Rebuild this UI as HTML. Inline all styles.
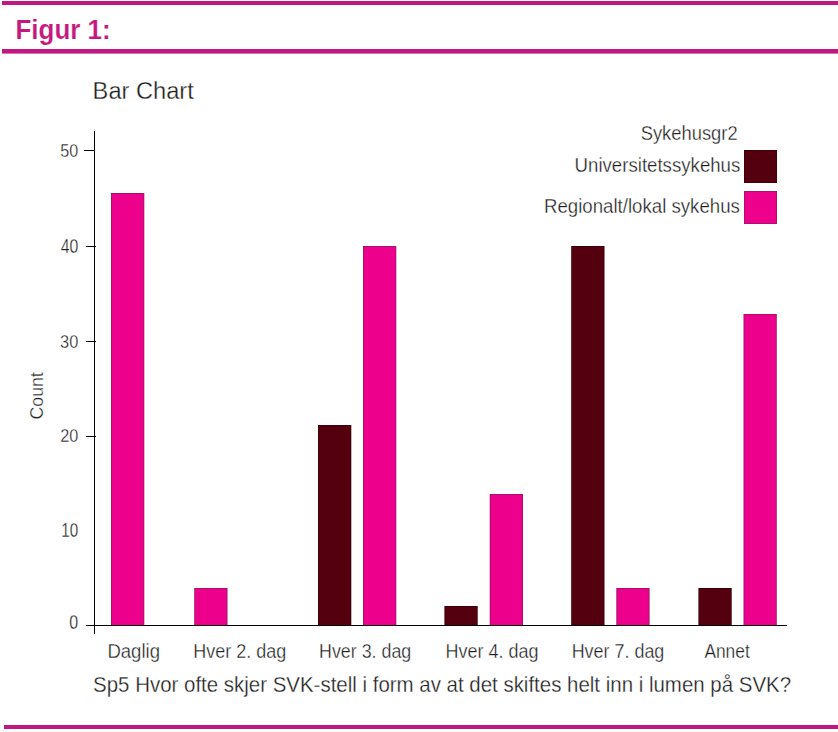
<!DOCTYPE html>
<html><head><meta charset="utf-8"><style>
html,body{margin:0;padding:0;background:#fff;}
svg{display:block;font-family:"Liberation Sans",sans-serif;}
</style></head><body>
<svg width="838" height="732" viewBox="0 0 838 732">
<rect width="838" height="732" fill="#fff"/>
<rect x="2" y="1" width="836" height="4" fill="#C0187F"/>
<rect x="2" y="49" width="836" height="4.6" fill="#C0187F"/>
<rect x="4" y="725" width="834" height="4" fill="#C0187F"/>
<text x="15.51" y="38.90" font-size="28.55" font-weight="bold" fill="#C4187F" stroke="#fff" stroke-width="0.15" textLength="95.19" lengthAdjust="spacingAndGlyphs">Figur 1:</text>
<text x="92.61" y="98.90" font-size="24.64" fill="#1e1e1e" stroke="#fff" stroke-width="0.3" textLength="101.22" lengthAdjust="spacingAndGlyphs">Bar Chart</text>
<rect x="84" y="150" width="10" height="1" fill="#000"/>
<rect x="86" y="246" width="10" height="1" fill="#000"/>
<rect x="86" y="341" width="10" height="1" fill="#000"/>
<rect x="86" y="436" width="10" height="1" fill="#000"/>
<rect x="86" y="625" width="8" height="1" fill="#000"/>
<text x="60.35" y="156.60" font-size="19.14" fill="#1e1e1e" stroke="#fff" stroke-width="0.3" textLength="17.95" lengthAdjust="spacingAndGlyphs">50</text>
<text x="60.68" y="253.00" font-size="19.86" fill="#1e1e1e" stroke="#fff" stroke-width="0.3" textLength="17.61" lengthAdjust="spacingAndGlyphs">40</text>
<text x="60.04" y="347.70" font-size="18.57" fill="#1e1e1e" stroke="#fff" stroke-width="0.3" textLength="18.27" lengthAdjust="spacingAndGlyphs">30</text>
<text x="60.19" y="442.00" font-size="18.57" fill="#1e1e1e" stroke="#fff" stroke-width="0.3" textLength="18.12" lengthAdjust="spacingAndGlyphs">20</text>
<text x="61.36" y="536.90" font-size="19.29" fill="#1e1e1e" stroke="#fff" stroke-width="0.3" textLength="16.91" lengthAdjust="spacingAndGlyphs">10</text>
<text x="69.36" y="628.90" font-size="19.57" fill="#1e1e1e" stroke="#fff" stroke-width="0.3" textLength="8.92" lengthAdjust="spacingAndGlyphs">0</text>
<g transform="translate(42.8,0) rotate(-90)"><text x="-419.49" y="0.00" font-size="19.13" fill="#1e1e1e" stroke="#fff" stroke-width="0.3" textLength="47.24" lengthAdjust="spacingAndGlyphs">Count</text></g>
<rect x="111" y="193" width="33.3" height="432" fill="#9E1468"/>
<rect x="111.9" y="193.9" width="31.499999999999996" height="431.1" fill="#EC008C"/>
<rect x="194.2" y="588" width="33.3" height="37" fill="#9E1468"/>
<rect x="195.1" y="588.9" width="31.499999999999996" height="36.1" fill="#EC008C"/>
<rect x="318" y="425" width="33.3" height="200" fill="#3A0008"/>
<rect x="318.9" y="425.9" width="31.499999999999996" height="199.1" fill="#55000E"/>
<rect x="363" y="246" width="33.3" height="379" fill="#9E1468"/>
<rect x="363.9" y="246.9" width="31.499999999999996" height="378.1" fill="#EC008C"/>
<rect x="444.4" y="606" width="33.3" height="19" fill="#3A0008"/>
<rect x="445.29999999999995" y="606.9" width="31.499999999999996" height="18.1" fill="#55000E"/>
<rect x="489.7" y="494" width="33.3" height="131" fill="#9E1468"/>
<rect x="490.59999999999997" y="494.9" width="31.499999999999996" height="130.1" fill="#EC008C"/>
<rect x="571.2" y="246" width="33.3" height="379" fill="#3A0008"/>
<rect x="572.1" y="246.9" width="31.499999999999996" height="378.1" fill="#55000E"/>
<rect x="616.3" y="588" width="33.3" height="37" fill="#9E1468"/>
<rect x="617.1999999999999" y="588.9" width="31.499999999999996" height="36.1" fill="#EC008C"/>
<rect x="698.4" y="588" width="33.3" height="37" fill="#3A0008"/>
<rect x="699.3" y="588.9" width="31.499999999999996" height="36.1" fill="#55000E"/>
<rect x="743.5" y="314" width="33.3" height="311" fill="#9E1468"/>
<rect x="744.4" y="314.9" width="31.499999999999996" height="310.1" fill="#EC008C"/>
<rect x="94" y="131" width="1" height="503" fill="#000"/>
<rect x="86" y="625" width="701" height="1" fill="#000"/>
<text x="107.42" y="657.90" font-size="19.57" fill="#1e1e1e" stroke="#fff" stroke-width="0.3" textLength="52.59" lengthAdjust="spacingAndGlyphs">Daglig</text>
<text x="193.26" y="657.90" font-size="19.57" fill="#1e1e1e" stroke="#fff" stroke-width="0.3" textLength="92.90" lengthAdjust="spacingAndGlyphs">Hver 2. dag</text>
<text x="319.07" y="657.90" font-size="19.57" fill="#1e1e1e" stroke="#fff" stroke-width="0.3" textLength="92.18" lengthAdjust="spacingAndGlyphs">Hver 3. dag</text>
<text x="445.56" y="657.90" font-size="19.57" fill="#1e1e1e" stroke="#fff" stroke-width="0.3" textLength="93.00" lengthAdjust="spacingAndGlyphs">Hver 4. dag</text>
<text x="571.67" y="657.90" font-size="19.57" fill="#1e1e1e" stroke="#fff" stroke-width="0.3" textLength="92.69" lengthAdjust="spacingAndGlyphs">Hver 7. dag</text>
<text x="704.40" y="657.90" font-size="19.57" fill="#1e1e1e" stroke="#fff" stroke-width="0.3" textLength="45.35" lengthAdjust="spacingAndGlyphs">Annet</text>
<text x="640.67" y="140.20" font-size="19.71" fill="#1e1e1e" stroke="#fff" stroke-width="0.3" textLength="96.96" lengthAdjust="spacingAndGlyphs">Sykehusgr2</text>
<text x="574.60" y="171.50" font-size="20.00" fill="#1e1e1e" stroke="#fff" stroke-width="0.3" textLength="165.69" lengthAdjust="spacingAndGlyphs">Universitetssykehus</text>
<text x="544.01" y="213.30" font-size="20.00" fill="#1e1e1e" stroke="#fff" stroke-width="0.3" textLength="195.86" lengthAdjust="spacingAndGlyphs">Regionalt/lokal sykehus</text>
<rect x="744" y="150" width="33" height="33" fill="#3A0008"/><rect x="744.8" y="150.8" width="31.4" height="31.4" fill="#55000E"/>
<rect x="744" y="191" width="33" height="33" fill="#9E1468"/><rect x="744.8" y="191.8" width="31.4" height="31.4" fill="#EC008C"/>
<text x="93.08" y="692.20" font-size="22.90" fill="#1e1e1e" stroke="#fff" stroke-width="0.3" textLength="697.97" lengthAdjust="spacingAndGlyphs">Sp5 Hvor ofte skjer SVK-stell i form av at det skiftes helt inn i lumen på SVK?</text>
</svg>
</body></html>
